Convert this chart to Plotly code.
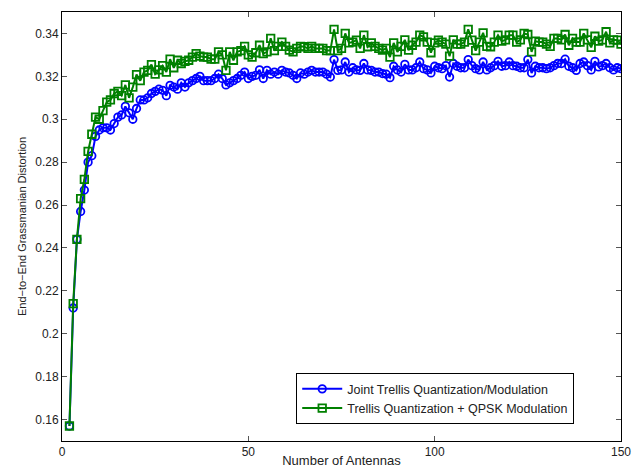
import plotly.graph_objects as go

antennas = list(range(2, 151))

joint_trellis = [
    0.157, 0.212, 0.244, 0.257, 0.267, 0.280, 0.283, 0.292, 0.295, 0.296,
    0.296, 0.295, 0.298, 0.301, 0.302, 0.306, 0.303, 0.300, 0.305, 0.309,
    0.309, 0.310, 0.312, 0.313, 0.314, 0.3135, 0.311, 0.3158, 0.315, 0.314,
    0.317, 0.315, 0.317, 0.318, 0.319, 0.320, 0.318, 0.318, 0.318, 0.319,
    0.321, 0.319, 0.316, 0.317, 0.318, 0.319, 0.3205, 0.322, 0.319, 0.320,
    0.3205, 0.323, 0.319, 0.3228, 0.321, 0.322, 0.321, 0.3228, 0.322, 0.3216,
    0.3205, 0.319, 0.3216, 0.321, 0.322, 0.3228, 0.322, 0.322, 0.322, 0.321,
    0.3197, 0.3278, 0.3228, 0.323, 0.3267, 0.322, 0.324, 0.323, 0.3228, 0.326,
    0.323, 0.3228, 0.322, 0.322, 0.3213, 0.321, 0.3194, 0.3247, 0.323, 0.322,
    0.3256, 0.323, 0.323, 0.324, 0.3267, 0.3236, 0.323, 0.3216, 0.3247, 0.324,
    0.3236, 0.325, 0.3197, 0.326, 0.3247, 0.324, 0.324, 0.3278, 0.325, 0.3236,
    0.323, 0.3267, 0.323, 0.324, 0.325, 0.327, 0.3247, 0.325, 0.3267, 0.325,
    0.3247, 0.324, 0.324, 0.3278, 0.3216, 0.3247, 0.324, 0.324, 0.3236, 0.324,
    0.325, 0.326, 0.326, 0.328, 0.3247, 0.324, 0.3228, 0.326, 0.3267, 0.325,
    0.323, 0.327, 0.3244, 0.325, 0.326, 0.324, 0.323, 0.324, 0.3236,
]

trellis_qpsk = [
    0.157, 0.214, 0.244, 0.263, 0.272, 0.285, 0.293, 0.301, 0.300, 0.304,
    0.308, 0.309, 0.312, 0.313, 0.311, 0.316, 0.310, 0.315, 0.3208, 0.318,
    0.322, 0.3228, 0.3255, 0.321, 0.323, 0.325, 0.322, 0.328, 0.324, 0.3275,
    0.326, 0.327, 0.3275, 0.329, 0.3306, 0.3294, 0.329, 0.329, 0.328, 0.328,
    0.3314, 0.330, 0.3228, 0.3314, 0.3275, 0.3314, 0.332, 0.334, 0.330, 0.329,
    0.331, 0.3345, 0.3306, 0.3314, 0.3377, 0.332, 0.334, 0.336, 0.334, 0.3322,
    0.3314, 0.333, 0.334, 0.3338, 0.333, 0.334, 0.333, 0.333, 0.333, 0.332,
    0.332, 0.3419, 0.332, 0.333, 0.340, 0.3356, 0.336, 0.3369, 0.333, 0.3392,
    0.3338, 0.3356, 0.334, 0.333, 0.3322, 0.333, 0.329, 0.3356, 0.3314, 0.334,
    0.337, 0.3322, 0.3345, 0.336, 0.3392, 0.3384, 0.336, 0.331, 0.3356, 0.3369,
    0.336, 0.335, 0.3294, 0.337, 0.335, 0.335, 0.336, 0.3419, 0.3369, 0.332,
    0.336, 0.3403, 0.334, 0.3338, 0.336, 0.3392, 0.3364, 0.337, 0.3392, 0.3392,
    0.336, 0.337, 0.340, 0.3395, 0.3314, 0.3364, 0.336, 0.336, 0.335, 0.334,
    0.3377, 0.3377, 0.337, 0.3395, 0.3345, 0.3377, 0.336, 0.336, 0.340, 0.337,
    0.3335, 0.3387, 0.3364, 0.337, 0.3408, 0.3356, 0.337, 0.3369, 0.335,
]

x_ticks = [0, 50, 100, 150]
y_ticks = [0.16, 0.18, 0.2, 0.22, 0.24, 0.26, 0.28, 0.3, 0.32, 0.34]
y_tick_labels = ["0.16", "0.18", "0.2", "0.22", "0.24", "0.26", "0.28", "0.3", "0.32", "0.34"]

FONT = "Liberation Sans, Arial, sans-serif"

fig = go.Figure()
fig.add_trace(go.Scatter(
    x=antennas, y=joint_trellis, mode="lines+markers",
    name="Joint Trellis Quantization/Modulation",
    line=dict(color="#0000ff", width=2),
    marker=dict(symbol="circle-open", size=7.5, color="#0000ff", line=dict(width=1.8)),
))
fig.add_trace(go.Scatter(
    x=antennas, y=trellis_qpsk, mode="lines+markers",
    name="Trellis Quantization + QPSK Modulation",
    line=dict(color="#008000", width=2),
    marker=dict(symbol="square-open", size=7.5, color="#008000", line=dict(width=1.8)),
))

axis_common = dict(
    showline=True, linecolor="black", linewidth=1, mirror="allticks",
    ticks="inside", ticklen=5, tickcolor="#555555", tickwidth=1,
    showgrid=False, zeroline=False, automargin=False,
    tickfont=dict(family=FONT, size=12, color="#222222"),
)

fig.update_layout(
    width=641, height=468,
    margin=dict(l=62, r=20, t=12, b=27),
    plot_bgcolor="white", paper_bgcolor="white",
    font=dict(family=FONT, size=12, color="#222222"),
    xaxis=dict(range=[0, 150], tickvals=x_ticks,
               title=dict(text="Number of Antennas", standoff=0,
                          font=dict(size=13)), **axis_common),
    yaxis=dict(range=[0.15, 0.35], tickvals=y_ticks, ticktext=y_tick_labels,
               title=dict(text="End\u2212to\u2212End Grassmanian Distortion", standoff=6,
                          font=dict(size=11)), **axis_common),
    legend=dict(x=0.419, y=0.158, xanchor="left", yanchor="top",
                bgcolor="white", bordercolor="black", borderwidth=1,
                font=dict(size=12.5), tracegroupgap=0, itemwidth=40),
    showlegend=True,
)

fig.write_html("out.html", config={"displayModeBar": False},
               post_script="document.body.style.margin='0px';")
